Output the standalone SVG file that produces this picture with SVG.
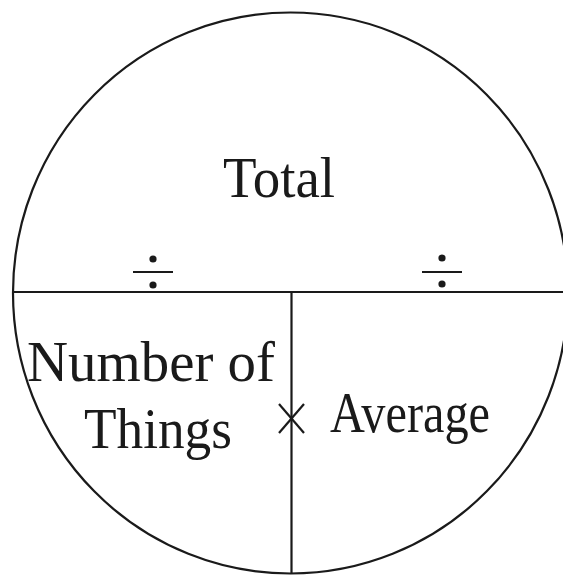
<svg xmlns="http://www.w3.org/2000/svg" width="563" height="576" viewBox="0 0 563 576">
<style>
.ln{stroke:#1a1a1a;stroke-width:2.2;fill:none}
.t{font-family:"Liberation Serif",serif;font-size:56px;fill:#1a1a1a}
.dot{fill:#1a1a1a}
</style>
<rect width="563" height="576" fill="#fff"/>
<g id="circle">
<ellipse class="ln" cx="290.5" cy="293" rx="277.5" ry="280.5"/>
</g>
<g id="connectors">
<line class="ln" x1="13" y1="292" x2="563" y2="292"/>
<line class="ln" x1="291.5" y1="292" x2="291.5" y2="573"/>
</g>
<g id="total">
<text class="t" x="279" y="197" text-anchor="middle" textLength="112" lengthAdjust="spacingAndGlyphs">Total</text>
</g>
<g id="div-left">
<circle class="dot" cx="153" cy="259" r="3.6"/>
<line class="ln" x1="133" y1="272" x2="173" y2="272"/>
<circle class="dot" cx="153" cy="285" r="3.6"/>
</g>
<g id="div-right">
<circle class="dot" cx="442" cy="258" r="3.6"/>
<line class="ln" x1="422" y1="272" x2="462" y2="272"/>
<circle class="dot" cx="442" cy="284" r="3.6"/>
</g>
<g id="number">
<text class="t" x="27" y="381" textLength="248" lengthAdjust="spacingAndGlyphs">Number of</text>
<text class="t" x="84" y="448" textLength="148" lengthAdjust="spacingAndGlyphs">Things</text>
</g>
<g id="times">
<line class="ln" x1="279" y1="404" x2="304" y2="433"/>
<line class="ln" x1="304" y1="404" x2="279" y2="433"/>
</g>
<g id="average">
<text class="t" x="330" y="432" textLength="160" lengthAdjust="spacingAndGlyphs">Average</text>
</g>
</svg>
